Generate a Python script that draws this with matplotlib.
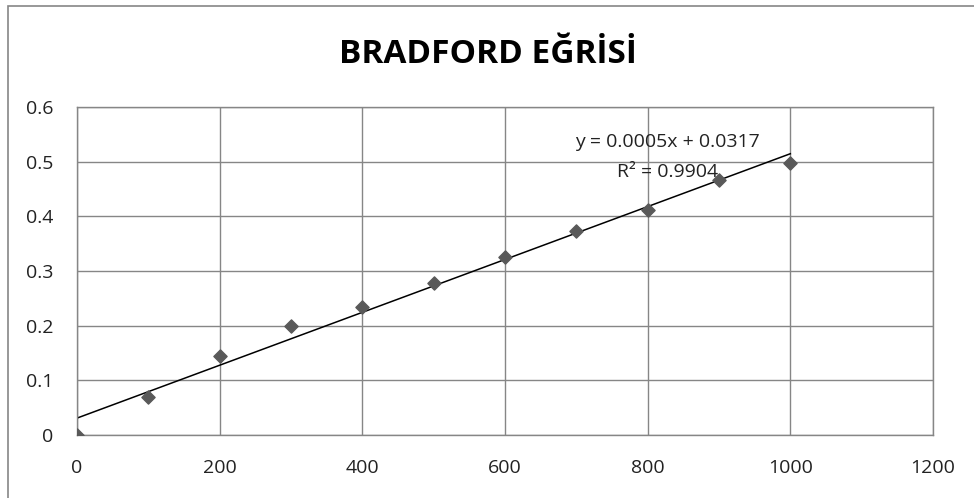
import numpy as np
import matplotlib
matplotlib.use('Agg')
import matplotlib.pyplot as plt
from matplotlib.patches import Rectangle

# konsantrasyon (x) ve absorbans (y)
x_vals = [0, 100, 200, 300, 400, 500, 600, 700, 800, 900, 1000]
y_vals = [0.0, 0.069, 0.144, 0.200, 0.234, 0.278, 0.325, 0.374, 0.412, 0.467, 0.497]
x_ticks = [0, 200, 400, 600, 800, 1000, 1200]
y_ticks = [0, 0.1, 0.2, 0.3, 0.4, 0.5, 0.6]
title = 'BRADFORD EĞRİSİ'
eq_text = 'y = 0.0005x + 0.0317\nR² = 0.9904'

plt.rcParams['font.family'] = ['Open Sans', 'DejaVu Sans']

fig = plt.figure(figsize=(9.74, 4.98), dpi=100)
ax = fig.add_axes([77/974, 1 - 435/498, (933-77)/974, (435-107)/498])

# cerceve
fig.patches.append(Rectangle((8/974, -0.1), 1.2, 1 - 6/498 + 0.1, transform=fig.transFigure,
                             fill=False, edgecolor='#868686', linewidth=1.2))

ax.scatter(x_vals, y_vals, marker='D', s=45, color='#595959', zorder=3)

# trend cizgisi
k, b = np.polyfit(x_vals, y_vals, 1)
xs = np.array([min(x_vals), max(x_vals)])
ax.plot(xs, k * xs + b, color='black', linewidth=1.1, zorder=2)

ax.text(828, 0.508, eq_text, ha='center', va='center', fontsize=14, color='#222222',
        linespacing=1.85)

ax.set_xlim(0, 1200)
ax.set_ylim(0, 0.6)
ax.set_xticks(x_ticks)
ax.set_yticks(y_ticks)
ax.set_xticklabels([str(t) for t in x_ticks])
ax.set_yticklabels(['0', '0.1', '0.2', '0.3', '0.4', '0.5', '0.6'])
ax.tick_params(length=0, labelsize=14, colors='#222222')
ax.tick_params(axis='x', pad=17)
ax.tick_params(axis='y', pad=17)
ax.grid(True, color='#868686', linewidth=1)
ax.set_axisbelow(True)
for s in ax.spines.values():
    s.set_color('#868686')
    s.set_linewidth(1)

fig.text(488/974, 1 - 63/498, title, ha='center', va='baseline', fontsize=24, fontweight='bold')

fig.savefig('out.png', dpi=100)
